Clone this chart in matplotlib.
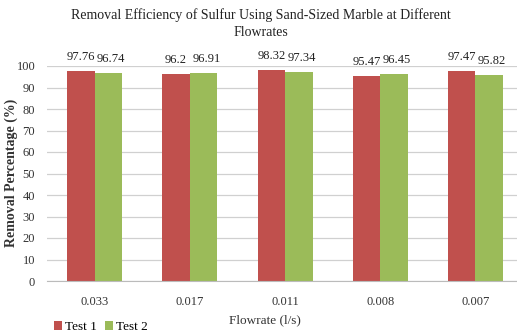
import matplotlib
matplotlib.use("Agg")
import matplotlib.pyplot as plt
import numpy as np

categories = ["0.033", "0.017", "0.011", "0.008", "0.007"]
test1 = [97.76, 96.2, 98.32, 95.47, 97.47]
test2 = [96.74, 96.91, 97.34, 96.45, 95.82]
test1_labels = ["97.76", "96.2", "98.32", "95.47", "97.47"]
test2_labels = ["96.74", "96.91", "97.34", "96.45", "95.82"]

plt.rcParams['font.family'] = ['Liberation Serif', 'DejaVu Serif']

W, H = 517, 333
fig = plt.figure(figsize=(W/100, H/100), dpi=100)
left, right = 47, 517
top, bottom = 66, 281
ax = fig.add_axes([left/W, 1-bottom/H, (right-left)/W, (bottom-top)/H])

x = np.arange(len(categories))
bw = 0.289
red = "#C0504D"
green = "#9BBB59"
b1 = ax.bar(x - bw/2, test1, bw, color=red, label="Test 1")
b2 = ax.bar(x + bw/2, test2, bw, color=green, label="Test 2")

for xi, v, s in zip(x, test1, test1_labels):
    ax.text(xi - bw/2, v + 3.7, s, ha="center", va="bottom", fontsize=9, color="#222222")
for xi, v, s in zip(x, test2, test2_labels):
    ax.text(xi + bw/2 + 0.03, v + 3.7, s, ha="center", va="bottom", fontsize=9, color="#222222")

ax.set_ylim(0, 100)
ax.set_xlim(-0.5, 4.436)
ax.set_yticks(range(0, 101, 10))
ax.set_xticks(x)
ax.set_xticklabels(categories)
ax.tick_params(axis="both", length=0, labelsize=9, colors="#333333")
ax.tick_params(axis="x", pad=11)
ax.tick_params(axis="y", pad=8.5)
ax.yaxis.grid(True, color="#D0D0D0", linewidth=0.9)
ax.set_axisbelow(True)
for sp in ["top", "right", "left"]:
    ax.spines[sp].set_visible(False)
ax.spines["bottom"].set_color("#BBBBBB")

fig.text(11/W, 1 - 173/H, "Removal Percentage (%)", rotation=90, ha="center", va="center",
         fontsize=10, fontweight="bold", color="#333333")
fig.text(265/W, 1 - 320/H, "Flowrate (l/s)", ha="center", va="center", fontsize=9.5, color="#333333")

fig.text(261/W, 1 - 15/H, "Removal Efficiency of Sulfur Using Sand-Sized Marble at Different",
         ha="center", va="center", fontsize=10, color="#222222")
fig.text(261/W, 1 - 33/H, "Flowrates", ha="center", va="center", fontsize=10, color="#222222")

fig.legend(handles=[b1, b2], loc="center left", bbox_to_anchor=(54/W, 1 - 327/H),
           ncol=2, frameon=False, fontsize=9.5, handlelength=0.6, handleheight=0.6,
           handletextpad=0.25, columnspacing=0.6, borderaxespad=0, borderpad=0)

fig.savefig("out.png", dpi=100)
